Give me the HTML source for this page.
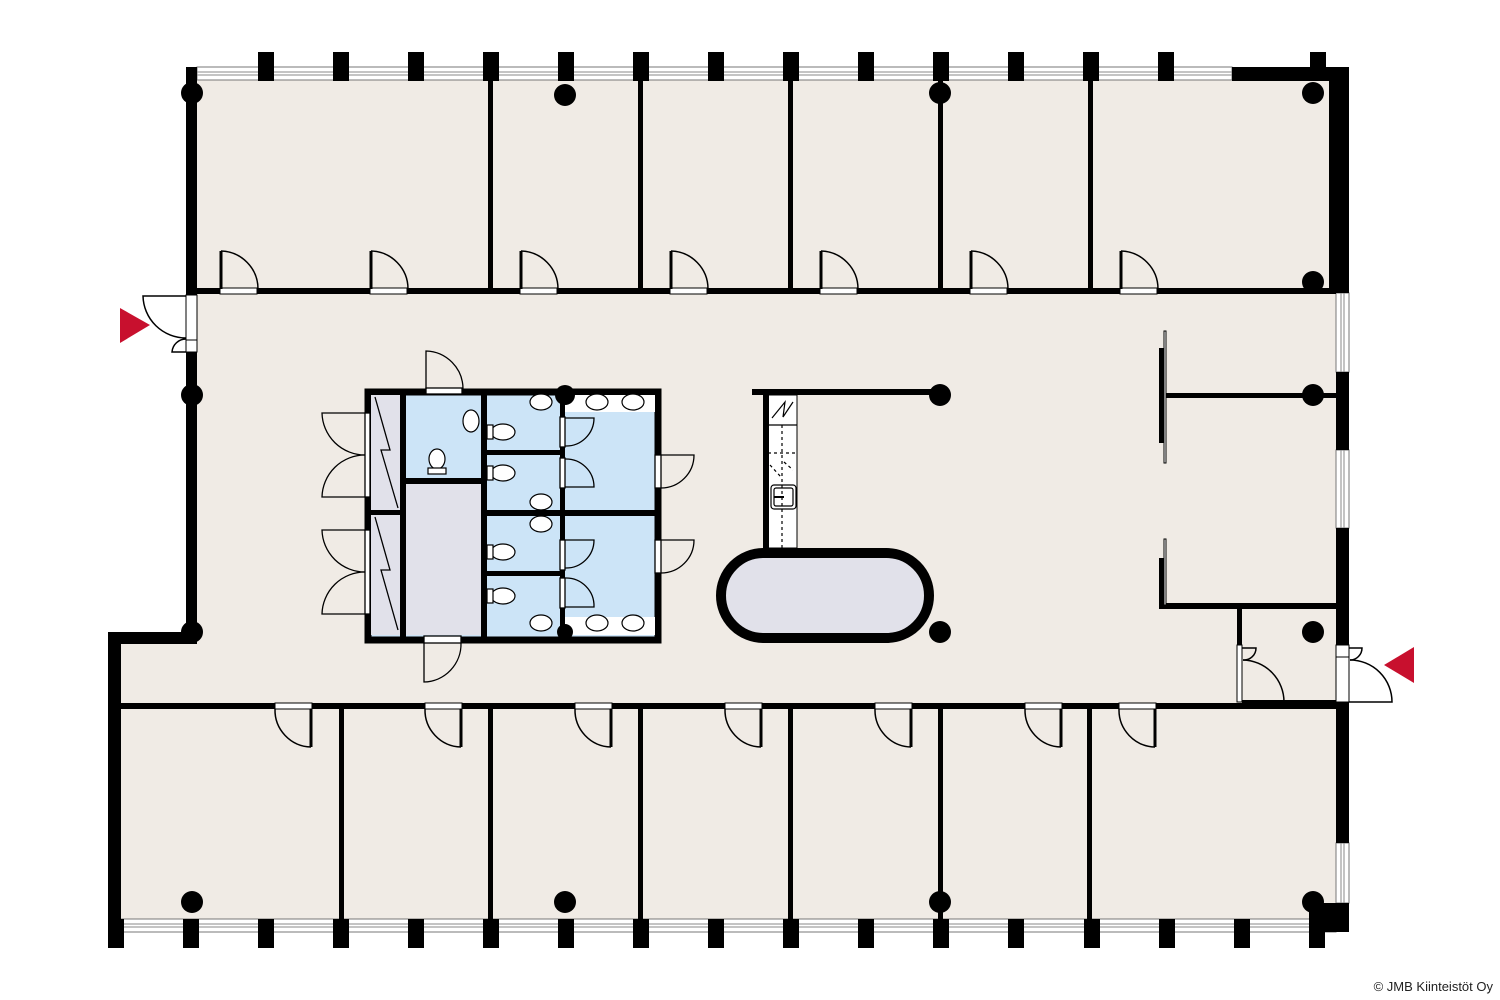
<!DOCTYPE html>
<html><head><meta charset="utf-8"><style>
html,body{margin:0;padding:0;background:#fff;}
svg{display:block}
</style></head><body>
<svg width="1500" height="1000" viewBox="0 0 1500 1000" xmlns="http://www.w3.org/2000/svg">
<!-- floor -->
<path d="M186 80 H1336 V919 H108 V632 H186 Z" fill="#f0ebe5"/>
<!-- top window band -->
<rect x="197" y="67" width="1035" height="13" fill="#fff" stroke="#777" stroke-width="1"/>
<line x1="197" y1="72" x2="1232" y2="72" stroke="#888" stroke-width="1"/>
<line x1="197" y1="75" x2="1232" y2="75" stroke="#888" stroke-width="1"/>
<!-- bottom window band -->
<rect x="120" y="919" width="1216" height="13" fill="#fff" stroke="#777" stroke-width="1"/>
<line x1="120" y1="924" x2="1336" y2="924" stroke="#888" stroke-width="1"/>
<line x1="120" y1="927" x2="1336" y2="927" stroke="#888" stroke-width="1"/>
<!-- right windows -->
<g fill="#fff" stroke="#777" stroke-width="1">
<rect x="1336" y="293" width="13" height="79"/>
<rect x="1336" y="450" width="13" height="78"/>
<rect x="1336" y="843" width="13" height="60"/>
</g>
<g stroke="#888" stroke-width="1">
<line x1="1341" y1="293" x2="1341" y2="372"/><line x1="1344" y1="293" x2="1344" y2="372"/>
<line x1="1341" y1="450" x2="1341" y2="528"/><line x1="1344" y1="450" x2="1344" y2="528"/>
<line x1="1341" y1="843" x2="1341" y2="903"/><line x1="1344" y1="843" x2="1344" y2="903"/>
</g>
<g fill="#000">
<!-- top mullions -->
<rect x="186" y="67" width="11" height="13"/>
<rect x="258" y="52" width="16" height="29"/><rect x="333" y="52" width="16" height="29"/><rect x="408" y="52" width="16" height="29"/>
<rect x="483" y="52" width="16" height="29"/><rect x="558" y="52" width="16" height="29"/><rect x="633" y="52" width="16" height="29"/>
<rect x="708" y="52" width="16" height="29"/><rect x="783" y="52" width="16" height="29"/><rect x="858" y="52" width="16" height="29"/>
<rect x="933" y="52" width="16" height="29"/><rect x="1008" y="52" width="16" height="29"/><rect x="1083" y="52" width="16" height="29"/>
<rect x="1158" y="52" width="16" height="29"/><rect x="1310" y="52" width="16" height="29"/>
<rect x="1232" y="67" width="117" height="14"/>
<!-- bottom mullions -->
<rect x="108" y="919" width="16" height="29"/><rect x="183" y="919" width="16" height="29"/><rect x="258" y="919" width="16" height="29"/>
<rect x="333" y="919" width="16" height="29"/><rect x="408" y="919" width="16" height="29"/><rect x="483" y="919" width="16" height="29"/>
<rect x="558" y="919" width="16" height="29"/><rect x="633" y="919" width="16" height="29"/><rect x="708" y="919" width="16" height="29"/>
<rect x="783" y="919" width="16" height="29"/><rect x="858" y="919" width="16" height="29"/><rect x="933" y="919" width="16" height="29"/>
<rect x="1008" y="919" width="16" height="29"/><rect x="1084" y="919" width="16" height="29"/><rect x="1159" y="919" width="16" height="29"/>
<rect x="1234" y="919" width="16" height="29"/><rect x="1309" y="919" width="16" height="29"/>
<rect x="1309" y="903" width="40" height="29"/>
<!-- outer walls -->
<rect x="186" y="67" width="11" height="228"/>
<rect x="186" y="352" width="11" height="290"/>
<rect x="108" y="632" width="89" height="12"/>
<rect x="108" y="632" width="13" height="300"/>
<rect x="1329" y="67" width="20" height="226"/>
<rect x="1336" y="372" width="13" height="78"/>
<rect x="1336" y="528" width="13" height="117"/>
<rect x="1336" y="702" width="13" height="141"/>
<!-- corridor walls -->
<rect x="197" y="288" width="1139" height="6"/>
<rect x="121" y="703" width="1215" height="6"/>
<!-- top partitions -->
<rect x="488" y="80" width="5" height="210"/><rect x="638" y="80" width="5" height="210"/><rect x="788" y="80" width="5" height="210"/>
<rect x="938" y="80" width="5" height="210"/><rect x="1088" y="80" width="5" height="210"/>
<!-- bottom partitions -->
<rect x="339" y="707" width="5" height="212"/><rect x="488" y="707" width="5" height="212"/><rect x="638" y="707" width="5" height="212"/>
<rect x="788" y="707" width="5" height="212"/><rect x="938" y="707" width="5" height="212"/><rect x="1087" y="707" width="5" height="212"/>
<!-- right area -->
<rect x="1159" y="348" width="5" height="95"/>
<rect x="1164" y="393" width="172" height="5"/>
<rect x="1159" y="558" width="5" height="50"/>
<rect x="1159" y="603" width="177" height="6"/>
<rect x="1237" y="608" width="5" height="37"/>
<!-- columns -->
<circle cx="192" cy="93" r="11"/><circle cx="565" cy="95" r="11"/><circle cx="940" cy="93" r="11"/><circle cx="1313" cy="93" r="11"/>
<circle cx="1313" cy="282" r="11"/><circle cx="192" cy="395" r="11"/><circle cx="192" cy="632" r="11"/>
<circle cx="1313" cy="395" r="11"/><circle cx="1313" cy="632" r="11"/>
<circle cx="940" cy="395" r="11"/><circle cx="940" cy="632" r="11"/>
<circle cx="192" cy="902" r="11"/><circle cx="565" cy="902" r="11"/><circle cx="940" cy="902" r="11"/><circle cx="1313" cy="902" r="11"/>
</g>
<!-- thin lines on right partitions -->
<g fill="#fff" stroke="#000" stroke-width="1">
<rect x="1164" y="331" width="2" height="132"/>
<rect x="1164" y="539" width="2" height="66"/>
</g>
<!-- top room doors -->
<g stroke="#000" fill="none" stroke-width="1.5">
<g id="td">
<rect x="220" y="288" width="37" height="6" fill="#fff" stroke-width="1"/>
<line x1="221" y1="251" x2="221" y2="289" stroke-width="3"/>
<path d="M221 251 A38 38 0 0 1 258 289"/>
</g>
<use href="#td" x="150"/><use href="#td" x="300"/><use href="#td" x="450"/><use href="#td" x="600"/><use href="#td" x="750"/><use href="#td" x="900"/>
<!-- bottom doors -->
<g id="bd">
<rect x="275" y="703" width="37" height="6" fill="#fff" stroke-width="1"/>
<line x1="311" y1="709" x2="311" y2="747" stroke-width="3"/>
<path d="M275 709 A37 37 0 0 0 311 747"/>
</g>
<use href="#bd" x="150"/><use href="#bd" x="300"/><use href="#bd" x="450"/><use href="#bd" x="600"/><use href="#bd" x="750"/><use href="#bd" x="844"/>
<!-- left entrance -->
<rect x="186" y="295" width="11" height="57" fill="#fff" stroke-width="1"/>
<line x1="186" y1="340" x2="197" y2="340" stroke-width="1"/>
<path d="M186 296 H143 A43 43 0 0 0 186 338"/>
<path d="M186 339 A14 14 0 0 0 172 352 H186"/>
<!-- right entrance -->
<rect x="1336" y="645" width="13" height="57" fill="#fff" stroke-width="1"/>
<line x1="1336" y1="657" x2="1349" y2="657" stroke-width="1"/>
<path d="M1349 648 H1362 A12 12 0 0 1 1350 660"/>
<path d="M1350 660 A42 42 0 0 1 1392 702 H1349"/>
<!-- small room door -->
<rect x="1237" y="645" width="5" height="57" fill="#fff" stroke-width="1"/>
<path d="M1242 648 H1256 A12 12 0 0 1 1243 660"/>
<path d="M1243 660 A42 42 0 0 1 1284 702 H1242"/>
</g>
<rect x="1242" y="700" width="94" height="4" fill="#000"/>
<!-- red arrows -->
<polygon points="120,308 150,325 120,343" fill="#c8102e"/>
<polygon points="1384,665 1414,647 1414,683" fill="#c8102e"/>

<!-- CORE -->
<rect x="368" y="392" width="290" height="248" fill="#cce4f7" stroke="#000" stroke-width="7"/>
<g fill="#e1e1ea">
<rect x="371" y="395" width="30" height="240"/>
<rect x="406" y="484" width="75" height="151"/>
</g>
<g fill="#fff">
<rect x="565" y="395" width="90" height="17"/>
<rect x="565" y="617" width="90" height="18"/>
</g>
<g fill="#000">
<rect x="400" y="392" width="6" height="246"/>
<rect x="481" y="392" width="6" height="246"/>
<rect x="560" y="392" width="5" height="246"/>
<rect x="406" y="478" width="75" height="6"/>
<rect x="371" y="510" width="30" height="5"/>
<rect x="487" y="450" width="73" height="5"/>
<rect x="487" y="510" width="168" height="6"/>
<rect x="487" y="571" width="73" height="5"/>
<circle cx="565" cy="395" r="10"/>
<circle cx="565" cy="632" r="8"/>
</g>
<g fill="none" stroke="#000" stroke-width="1.3">
<!-- locker zigzag -->
<path d="M375 397 L390 450 L381 450 L398 508"/>
<path d="M375 517 L390 570 L381 570 L398 630"/>
<!-- left core doors -->
<rect x="365" y="413" width="5" height="84" fill="#fff"/>
<rect x="365" y="530" width="5" height="84" fill="#fff"/>
<path d="M365 413 H322 A43 43 0 0 0 365 455"/>
<path d="M365 455 A43 43 0 0 0 322 497 H365"/>
<path d="M365 530 H322 A43 43 0 0 0 365 572"/>
<path d="M365 572 A43 43 0 0 0 322 614 H365"/>
<!-- top/bottom core doors -->
<rect x="426" y="388" width="36" height="6" fill="#fff"/>
<path d="M426 389 V351 A38 38 0 0 1 463 389"/>
<rect x="424" y="636" width="37" height="7" fill="#fff"/>
<path d="M424 643 V682 A38 38 0 0 0 461 643"/>
<!-- right core doors -->
<rect x="655" y="455" width="6" height="33" fill="#fff"/>
<path d="M661 455 H694 A33 33 0 0 1 661 488"/>
<rect x="655" y="540" width="6" height="33" fill="#fff"/>
<path d="M661 540 H694 A33 33 0 0 1 661 573"/>
<!-- cubicle doors -->
<rect x="560" y="417" width="5" height="30" fill="#fff"/>
<path d="M565 418 H594 A28 28 0 0 1 565 446"/>
<rect x="560" y="458" width="5" height="30" fill="#fff"/>
<path d="M565 459 A28 28 0 0 1 594 487 H565"/>
<rect x="560" y="540" width="5" height="30" fill="#fff"/>
<path d="M565 540 H594 A28 28 0 0 1 565 568"/>
<rect x="560" y="578" width="5" height="30" fill="#fff"/>
<path d="M565 578 A28 28 0 0 1 594 607 H565"/>
</g>
<!-- fixtures -->
<g fill="#fff" stroke="#000" stroke-width="1.2">
<ellipse cx="471" cy="421" rx="8" ry="11"/>
<ellipse cx="437" cy="459" rx="8" ry="10"/><rect x="428" y="468" width="18" height="6"/>
<ellipse cx="503" cy="432" rx="12" ry="8"/><rect x="487" y="425" width="6" height="14"/>
<ellipse cx="503" cy="473" rx="12" ry="8"/><rect x="487" y="466" width="6" height="14"/>
<ellipse cx="503" cy="552" rx="12" ry="8"/><rect x="487" y="545" width="6" height="14"/>
<ellipse cx="503" cy="596" rx="12" ry="8"/><rect x="487" y="589" width="6" height="14"/>
<ellipse cx="541" cy="402" rx="11" ry="8"/>
<ellipse cx="541" cy="502" rx="11" ry="8"/>
<ellipse cx="541" cy="524" rx="11" ry="8"/>
<ellipse cx="541" cy="623" rx="11" ry="8"/>
<ellipse cx="597" cy="402" rx="11" ry="8"/><ellipse cx="633" cy="402" rx="11" ry="8"/>
<ellipse cx="597" cy="623" rx="11" ry="8"/><ellipse cx="633" cy="623" rx="11" ry="8"/>
</g>

<!-- KITCHEN -->
<rect x="768" y="395" width="29" height="153" fill="#fff" stroke="#000" stroke-width="1"/>
<rect x="752" y="389" width="188" height="6" fill="#000"/>
<rect x="763" y="392" width="6" height="160" fill="#000"/>
<g stroke="#000" fill="none" stroke-width="1.2">
<path d="M772 418 L785 402 L783 417 L793 402"/>
<line x1="768" y1="425" x2="797" y2="425"/>
<line x1="782" y1="425" x2="782" y2="548" stroke-dasharray="3,3"/>
<line x1="768" y1="453" x2="797" y2="453" stroke-dasharray="3,3"/>
<line x1="770" y1="465" x2="781" y2="477" stroke-dasharray="3,3"/>
<line x1="784" y1="462" x2="793" y2="470" stroke-dasharray="3,3"/>
<rect x="771" y="485" width="25" height="24" rx="3"/>
<rect x="774" y="488" width="19" height="18" rx="2"/>
<line x1="774" y1="497" x2="784" y2="497" stroke-width="2"/>
</g>
<rect x="721" y="553" width="208" height="85" rx="42.5" fill="#e1e1ea" stroke="#000" stroke-width="10"/>

<text x="1493" y="991" text-anchor="end" font-family="Liberation Sans, sans-serif" font-size="13" fill="#222">© JMB Kiinteistöt Oy</text>
</svg>
</body></html>
